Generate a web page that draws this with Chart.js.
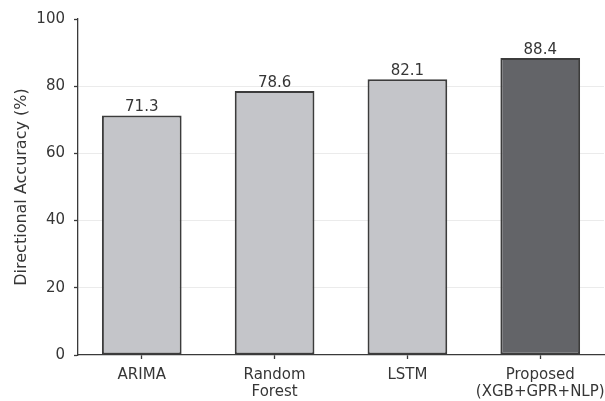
<!DOCTYPE html>
<html>
<head>
<meta charset="utf-8">
<script src="https://cdn.jsdelivr.net/npm/chart.js@4/dist/chart.umd.min.js"></script>
<style>
html,body{margin:0;padding:0;background:#fff;}
#wrap{width:605px;height:401px;position:relative;}
</style>
</head>
<body>
<div id="wrap"><canvas id="c" width="605" height="401"></canvas></div>
<script>
const categories = [["ARIMA"], ["Random", "Forest"], ["LSTM"], ["Proposed", "(XGB+GPR+NLP)"]];
const accuracy = [71.3, 78.6, 82.1, 88.4];
const yTicks = [0, 20, 40, 60, 80, 100];
const barColors = ["#c4c5c9", "#c4c5c9", "#c4c5c9", "#636468"];

const textColor = "#363636";
const fontFamily = "'DejaVu Sans', sans-serif";

const valueLabels = {
  id: "valueLabels",
  afterDatasetsDraw(chart) {
    const ctx = chart.ctx;
    const meta = chart.getDatasetMeta(0);
    ctx.save();
    ctx.font = "15px " + fontFamily;
    ctx.fillStyle = textColor;
    ctx.textAlign = "center";
    ctx.textBaseline = "alphabetic";
    meta.data.forEach((bar, i) => {
      ctx.fillText(accuracy[i].toFixed(1), bar.x, bar.y - 4);
    });
    ctx.restore();
  }
};

new Chart(document.getElementById("c"), {
  type: "bar",
  data: {
    datasets: [{
      data: accuracy.map((v, i) => ({ x: i, y: v })),
      backgroundColor: barColors,
      borderColor: "#3c3c3c",
      borderWidth: 2,
      borderSkipped: false,
      barPercentage: 0.6,
      categoryPercentage: 1.0
    }]
  },
  options: {
    responsive: false,
    animation: false,
    layout: { padding: { left: 0, right: 1, top: 19, bottom: 0 } },
    plugins: { legend: { display: false }, tooltip: { enabled: false } },
    scales: {
      x: {
        type: "linear",
        min: -0.48,
        max: 3.48,
        offset: false,
        afterBuildTicks(scale) {
          scale.ticks = categories.map((c, i) => ({ value: i }));
        },
        afterFit(scale) {
          scale.height = 46;
          scale.paddingLeft = 0;
          scale.paddingRight = 0;
        },
        border: { display: true, color: "#3a3a3a", width: 1.3 },
        grid: { offset: false, drawOnChartArea: false, drawTicks: true, tickLength: 4, tickColor: "#3a3a3a", tickWidth: 1.3 },
        ticks: {
          autoSkip: false,
          maxRotation: 0,
          padding: 7,
          color: textColor,
          font: { family: fontFamily, size: 15, lineHeight: 1.18 },
          callback: (v) => categories[v] || ""
        }
      },
      y: {
        min: 0,
        max: 100,
        afterBuildTicks(scale) {
          scale.ticks = yTicks.map(v => ({ value: v }));
        },
        afterFit(scale) { scale.width = 78; },
        border: { display: true, color: "#3a3a3a", width: 1.3 },
        grid: {
          color: (ctx) => (ctx.tick && (ctx.tick.value === 0 || ctx.tick.value === 100)) ? "rgba(0,0,0,0)" : "#ebebeb",
          lineWidth: 1,
          drawTicks: true,
          tickLength: 4,
          tickColor: "#3a3a3a",
          tickWidth: 1.3
        },
        ticks: {
          padding: 9,
          color: textColor,
          font: { family: fontFamily, size: 15 }
        },
        title: {
          display: true,
          text: "Directional Accuracy (%)",
          color: textColor,
          font: { family: fontFamily, size: 16 },
          padding: { top: 12, bottom: 0 }
        }
      }
    }
  },
  plugins: [valueLabels]
});
</script>
</body>
</html>
